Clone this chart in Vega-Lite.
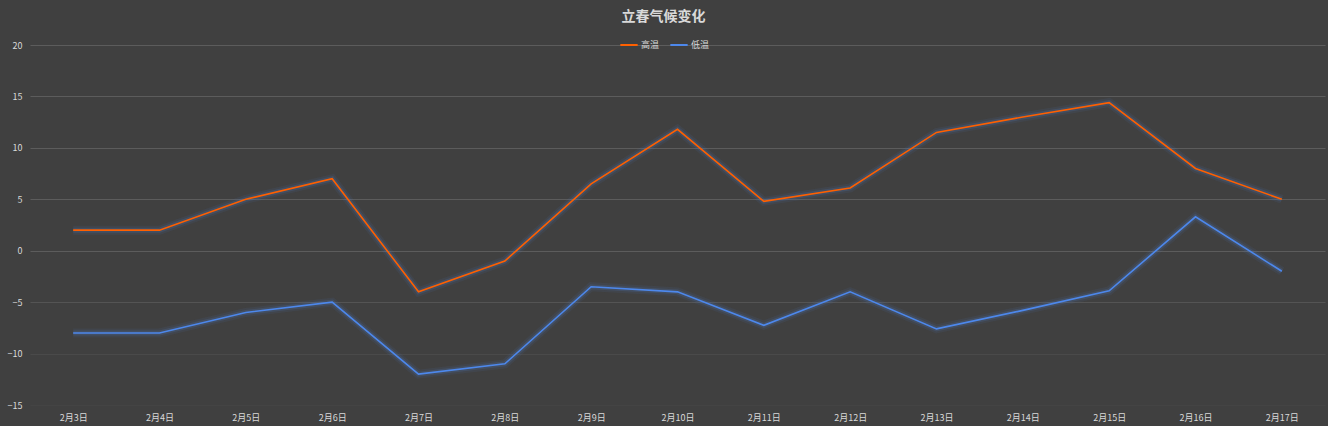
{
  "$schema": "https://vega.github.io/schema/vega-lite/v6.json",
  "autosize": "none",
  "width": 1295,
  "height": 360,
  "padding": {"left": 30, "top": 45, "right": 3, "bottom": 21},
  "background": "#404040",
  "title": {
    "text": "立春气候变化",
    "font": "Noto Sans CJK SC",
    "fontSize": 14,
    "fontWeight": "bold",
    "color": "#D9D9D9",
    "anchor": "middle",
    "offset": 11,
    "dx": -14
  },
  "config": {
    "view": {"stroke": null},
    "font": "Noto Sans CJK SC"
  },
  "data": {
    "values": [
      {"date": "2月3日", "series": "高温", "temp": 2},
      {"date": "2月4日", "series": "高温", "temp": 2},
      {"date": "2月5日", "series": "高温", "temp": 5},
      {"date": "2月6日", "series": "高温", "temp": 7},
      {"date": "2月7日", "series": "高温", "temp": -4},
      {"date": "2月8日", "series": "高温", "temp": -1},
      {"date": "2月9日", "series": "高温", "temp": 6.5},
      {"date": "2月10日", "series": "高温", "temp": 11.8},
      {"date": "2月11日", "series": "高温", "temp": 4.8},
      {"date": "2月12日", "series": "高温", "temp": 6.1},
      {"date": "2月13日", "series": "高温", "temp": 11.5},
      {"date": "2月14日", "series": "高温", "temp": 13},
      {"date": "2月15日", "series": "高温", "temp": 14.4},
      {"date": "2月16日", "series": "高温", "temp": 8},
      {"date": "2月17日", "series": "高温", "temp": 5},
      {"date": "2月3日", "series": "低温", "temp": -8},
      {"date": "2月4日", "series": "低温", "temp": -8},
      {"date": "2月5日", "series": "低温", "temp": -6},
      {"date": "2月6日", "series": "低温", "temp": -5},
      {"date": "2月7日", "series": "低温", "temp": -12},
      {"date": "2月8日", "series": "低温", "temp": -11},
      {"date": "2月9日", "series": "低温", "temp": -3.5},
      {"date": "2月10日", "series": "低温", "temp": -4},
      {"date": "2月11日", "series": "低温", "temp": -7.25},
      {"date": "2月12日", "series": "低温", "temp": -4},
      {"date": "2月13日", "series": "低温", "temp": -7.6},
      {"date": "2月14日", "series": "低温", "temp": -5.8},
      {"date": "2月15日", "series": "低温", "temp": -3.9},
      {"date": "2月16日", "series": "低温", "temp": 3.3},
      {"date": "2月17日", "series": "低温", "temp": -2}
    ]
  },
  "encoding": {
    "x": {
      "field": "date",
      "type": "ordinal",
      "sort": null,
      "scale": {"type": "point", "padding": 0.5},
      "axis": {
        "title": null,
        "labelAngle": 0,
        "labelColor": "#D9D9D9",
        "labelFontSize": 9,
        "labelFont": "Noto Sans CJK SC",
        "labelPadding": 8,
        "ticks": false,
        "domain": false,
        "grid": false
      }
    },
    "y": {
      "field": "temp",
      "type": "quantitative",
      "scale": {"domain": [-15, 20], "nice": false},
      "axis": {
        "title": null,
        "values": [-15, -10, -5, 0, 5, 10, 15, 20],
        "labelColor": "#D9D9D9",
        "labelFontSize": 9,
        "labelPadding": 8,
        "ticks": false,
        "domain": false,
        "gridColor": {"expr": "datum.value >= 0 ? '#5c5c5c' : datum.value >= -5 ? '#545454' : datum.value >= -10 ? '#4a4a4a' : '#444444'"},
        "gridWidth": 1
      }
    }
  },
  "layer": [
    {
      "mark": {"type": "line", "strokeWidth": 9, "color": "#4f78b8", "opacity": 0.1},
      "encoding": {"detail": {"field": "series"}}
    },
    {
      "mark": {"type": "line", "strokeWidth": 5, "color": "#4f78b8", "opacity": 0.22},
      "encoding": {"detail": {"field": "series"}}
    },
    {
      "mark": {"type": "line", "strokeWidth": 1.6},
      "encoding": {
        "color": {
          "field": "series",
          "type": "nominal",
          "scale": {"domain": ["高温", "低温"], "range": ["#FF6000", "#4D88EC"]},
          "legend": {
            "title": null,
            "orient": "none",
            "direction": "horizontal",
            "legendX": 589,
            "legendY": -10,
            "symbolType": "stroke",
            "symbolSize": 300,
            "symbolStrokeWidth": 2,
            "labelColor": "#D9D9D9",
            "labelFontSize": 9,
            "labelFont": "Noto Sans CJK SC",
            "columnPadding": 6,
            "labelOffset": 2
          }
        }
      }
    }
  ]
}
